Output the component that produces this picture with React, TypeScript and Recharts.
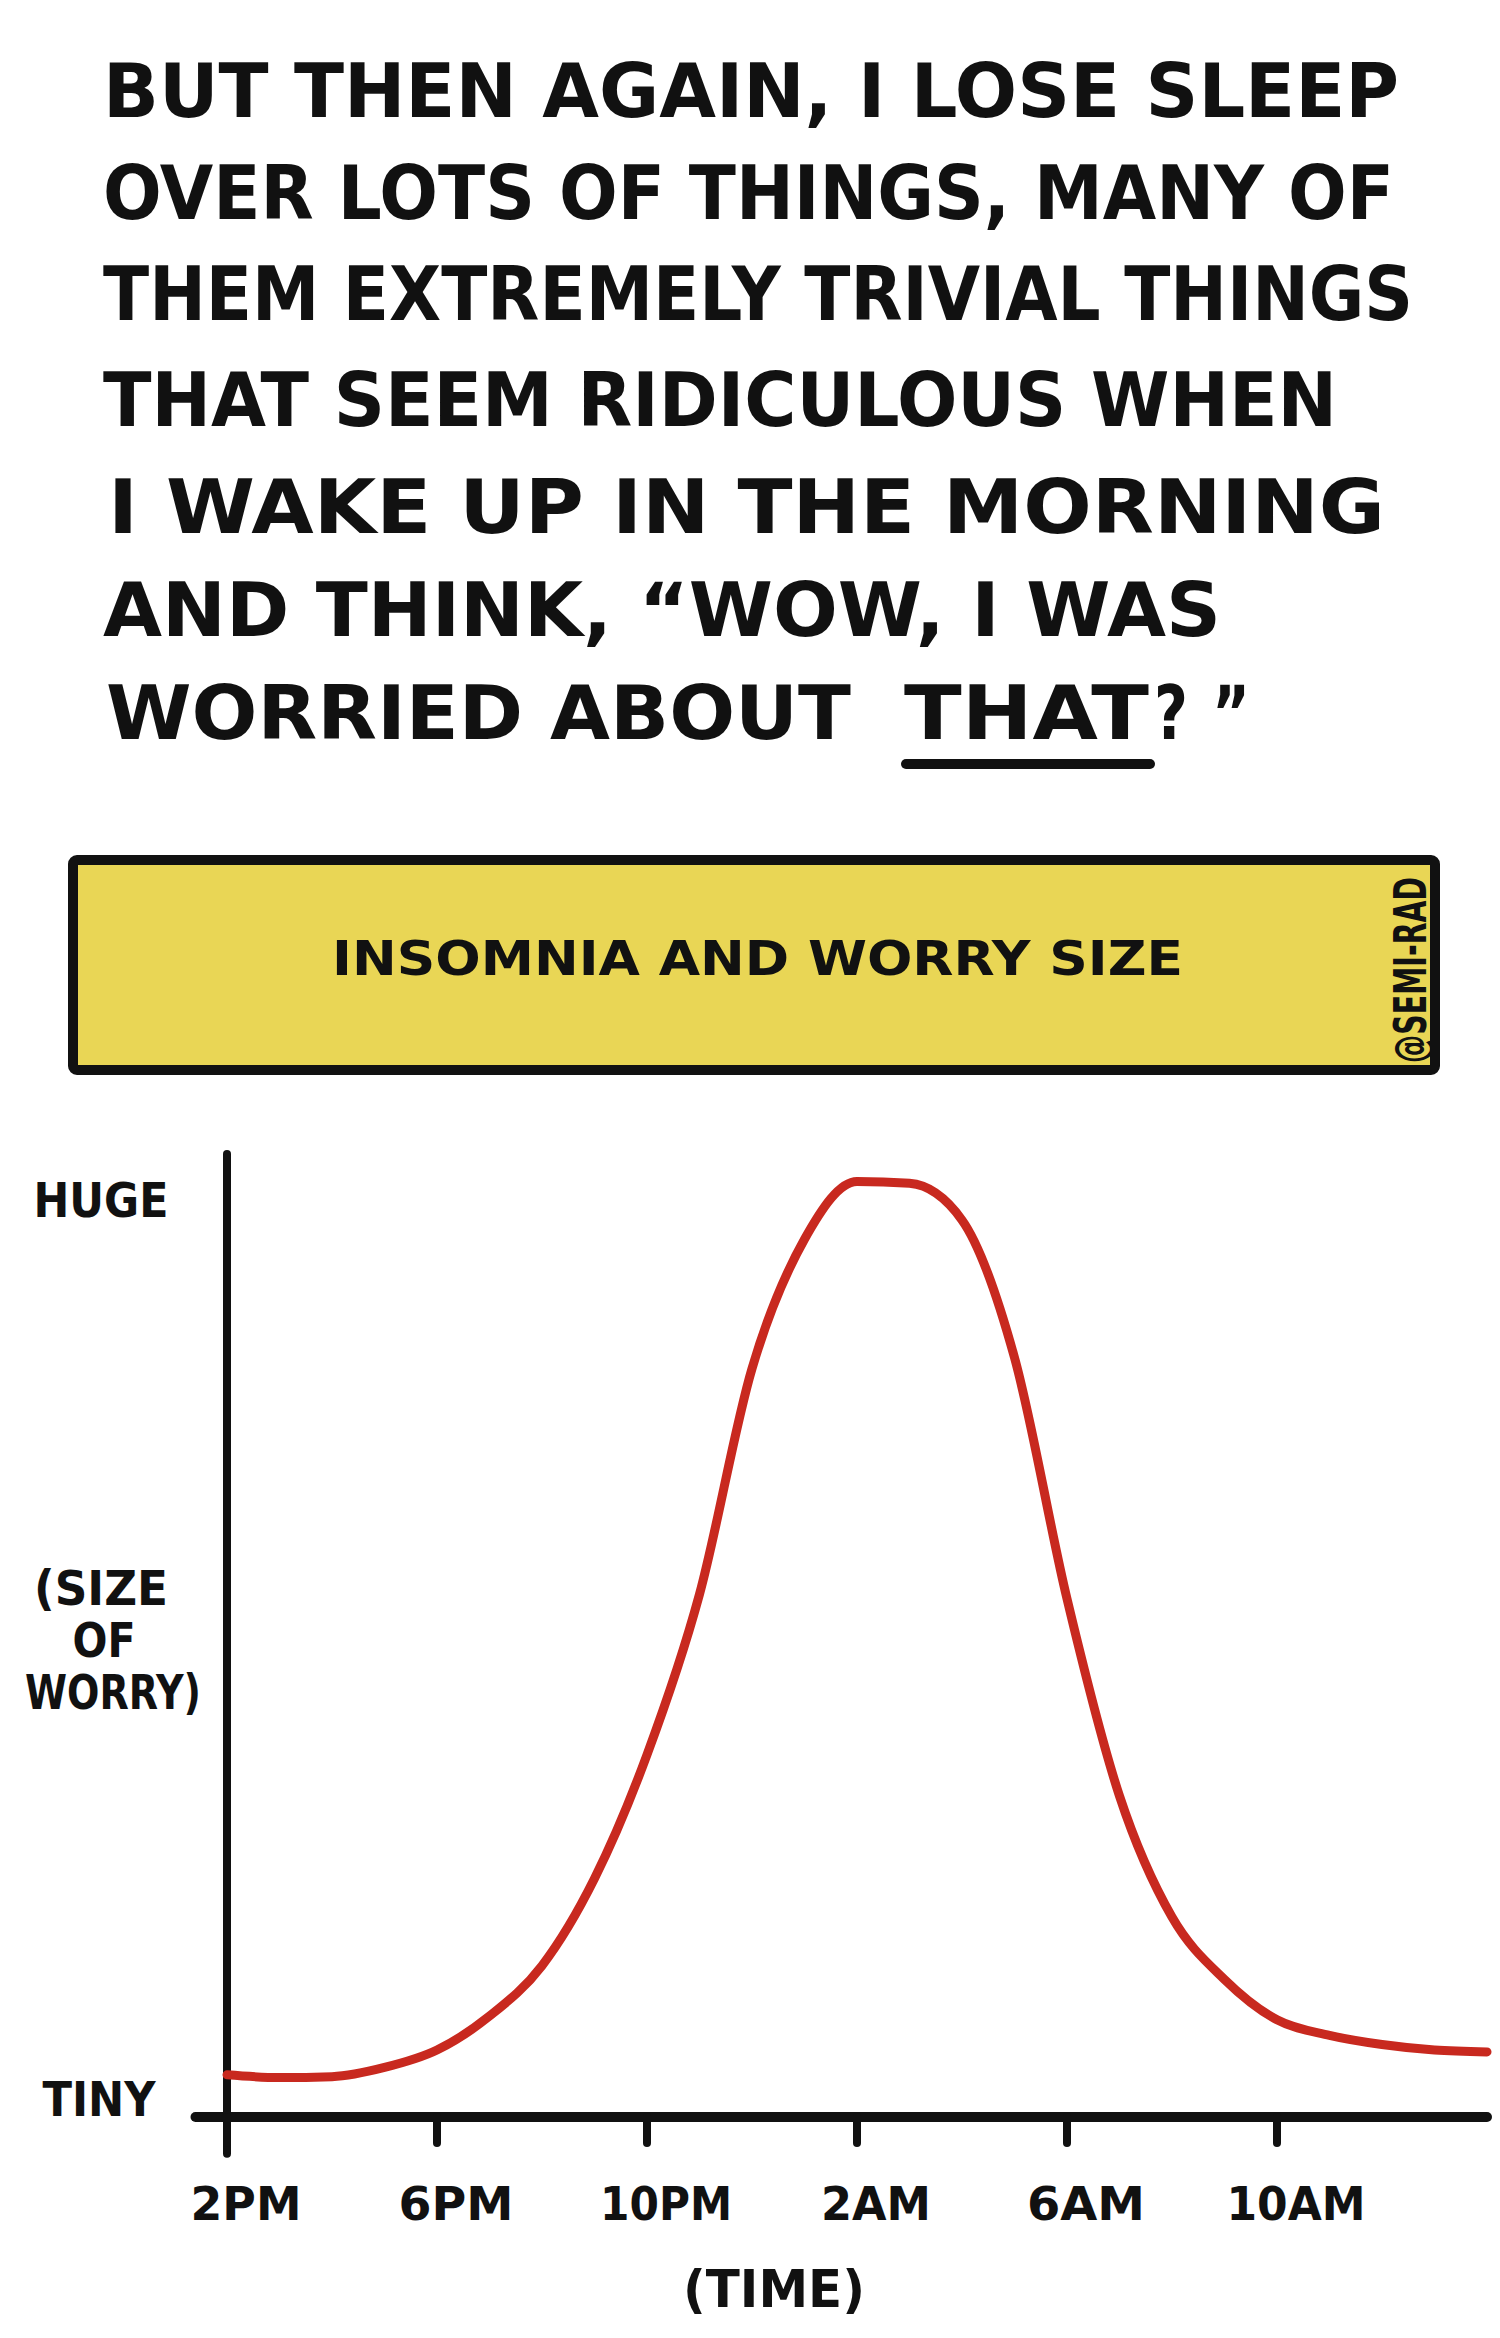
import React from 'react';
import { LineChart, Line, XAxis, YAxis, ReferenceLine } from 'recharts';

// hours after 2PM
const hours = [0, 1, 2, 3, 4, 5, 6, 7, 8, 9, 10, 11, 12, 13, 14, 15, 16, 17, 18, 19, 20, 21, 22, 23, 24];
const worrySize = [
  4.6, 4.3, 4.4, 5.4, 7.3, 11.0, 16.5, 26.0, 39.5, 57.0, 81.6, 95.7, 102.0,
  101.8, 97.8, 82.8, 56.5, 35.0, 21.8, 15.0, 10.6, 8.9, 7.9, 7.3, 7.1,
];
const timeTicks = [0, 4, 8, 12, 16, 20];
const timeLabels = ['2PM', '6PM', '10PM', '2AM', '6AM', '10AM'];
const sizeTicks = [2, 52, 100];
const sizeLabels = [['TINY'], ['(SIZE', 'OF', 'WORRY)'], ['HUGE']];

const headerLines = [
  'BUT THEN AGAIN, I LOSE SLEEP',
  'OVER LOTS OF THINGS, MANY OF',
  'THEM EXTREMELY TRIVIAL THINGS',
  'THAT SEEM RIDICULOUS WHEN',
  'I WAKE UP IN THE MORNING',
  'AND THINK, \u201CWOW, I WAS',
];
const lastLine = ['WORRIED ABOUT', 'THAT', '?', '\u201D'];

const INK = '#111';
const RED = '#c8291f';
const YELLOW = '#e9d655';
const FONT = '"DejaVu Sans", sans-serif';

// [x, baseline, width]
const headerLayout = [
  [103, 117, 1296],
  [103, 219, 1291],
  [103, 320, 1310],
  [103, 426, 1234],
  [108, 533, 1277],
  [103, 636, 1118],
];
const lastLineLayout = [
  [106, 739, 745],
  [904, 739, 245],
  [1154, 739, 34],
  [1212, 739, 38],
];
const sizeLabelWidths = [[113], [134, 63, 176], [135]];
const sizeLabelShift = [[-2], [0, 3, 12], [0]];
const timeLabelWidths = [111, 115, 132, 110, 118, 139];

const TimeTick = (props: any) => {
  const { x, y, payload } = props;
  const i = timeTicks.indexOf(payload.value);
  return (
    <g>
      <line x1={x} y1={y} x2={x} y2={y + 26} stroke={INK} strokeWidth={8} strokeLinecap='round' />
      <text
        x={x + 19}
        y={y + 103}
        textAnchor='middle'
        fontFamily={FONT}
        fontWeight='bold'
        fontSize={46}
        fill={INK}
        textLength={timeLabelWidths[i]}
        lengthAdjust='spacingAndGlyphs'
      >
        {timeLabels[i]}
      </text>
    </g>
  );
};

const SizeTick = (props: any) => {
  const { x, y, payload } = props;
  const i = sizeTicks.indexOf(payload.value);
  const lines = sizeLabels[i] || [];
  return (
    <g>
      {lines.map((s, j) => (
        <text
          key={s}
          x={x - 126 + sizeLabelShift[i][j]}
          y={y + 17 + (j - (lines.length - 1) / 2) * 52}
          textAnchor='middle'
          fontFamily={FONT}
          fontWeight='bold'
          fontSize={48}
          fill={INK}
          textLength={sizeLabelWidths[i][j]}
          lengthAdjust='spacingAndGlyphs'
        >
          {s}
        </text>
      ))}
    </g>
  );
};

export default function App() {
  const data = hours.map((hour, i) => ({ hour, worry: worrySize[i] }));

  return (
    <div
      style={{
        position: 'absolute',
        left: 0,
        top: 0,
        width: 1500,
        height: 2338,
        background: '#fff',
        overflow: 'hidden',
      }}
    >
      <svg width={1500} height={2338} style={{ position: 'absolute', left: 0, top: 0 }}>
        {headerLines.map((s, i) => (
          <text
            key={s}
            x={headerLayout[i][0]}
            y={headerLayout[i][1]}
            fontFamily={FONT}
            fontWeight='bold'
            fontSize={74}
            fill={INK}
            textLength={headerLayout[i][2]}
            lengthAdjust='spacingAndGlyphs'
          >
            {s}
          </text>
        ))}
        {lastLine.map((s, i) => (
          <text
            key={s}
            x={lastLineLayout[i][0]}
            y={lastLineLayout[i][1]}
            fontFamily={FONT}
            fontWeight='bold'
            fontSize={74}
            fill={INK}
            textLength={lastLineLayout[i][2]}
            lengthAdjust='spacingAndGlyphs'
          >
            {s}
          </text>
        ))}
        <line x1={906} y1={764} x2={1150} y2={764} stroke={INK} strokeWidth={10} strokeLinecap='round' />

        <rect x={73} y={860} width={1362} height={210} rx={4} fill={YELLOW} stroke={INK} strokeWidth={10} />
        <text
          x={332}
          y={975}
          fontFamily={FONT}
          fontWeight='bold'
          fontSize={48}
          fill={INK}
          textLength={851}
          lengthAdjust='spacingAndGlyphs'
        >
          INSOMNIA  AND WORRY SIZE
        </text>
        <text
          x={0}
          y={0}
          transform='translate(1410 970) rotate(-90)'
          textAnchor='middle'
          dominantBaseline='central'
          fontFamily={FONT}
          fontWeight='bold'
          fontSize={44}
          fill={INK}
          textLength={186}
          lengthAdjust='spacingAndGlyphs'
        >
          @SEMI-RAD
        </text>

        <text
          x={774}
          y={2307}
          textAnchor='middle'
          fontFamily={FONT}
          fontWeight='bold'
          fontSize={52}
          fill={INK}
          textLength={182}
          lengthAdjust='spacingAndGlyphs'
        >
          (TIME)
        </text>
      </svg>

      <div style={{ position: 'absolute', left: 0, top: 1100 }}>
        <LineChart
          width={1500}
          height={1238}
          data={data}
          margin={{ top: 54, right: 13, bottom: 61, left: 0 }}
        >
          <XAxis
            dataKey='hour'
            type='number'
            domain={[0, 24]}
            ticks={timeTicks}
            interval={0}
            axisLine={false}
            tickLine={false}
            tickSize={0}
            tickMargin={0}
            height={160}
            tick={(p: any) => <TimeTick {...p} />}
          />
          <YAxis
            type='number'
            domain={[0, 105]}
            ticks={sizeTicks}
            interval={0}
            width={227}
            axisLine={false}
            tickLine={false}
            tickSize={0}
            tickMargin={0}
            tick={(p: any) => <SizeTick {...p} />}
          />
          <ReferenceLine
            segment={[{ x: -0.6, y: 0 }, { x: 24, y: 0 }]}
            stroke={INK}
            strokeWidth={10}
            strokeLinecap='round'
            ifOverflow='visible'
          />
          <ReferenceLine
            segment={[{ x: 0, y: -4 }, { x: 0, y: 105 }]}
            stroke={INK}
            strokeWidth={8}
            strokeLinecap='round'
            ifOverflow='visible'
          />
          <Line
            type='monotone'
            dataKey='worry'
            stroke={RED}
            strokeWidth={9}
            strokeLinecap='round'
            dot={false}
            activeDot={false}
            isAnimationActive={false}
          />
        </LineChart>
      </div>
    </div>
  );
}
